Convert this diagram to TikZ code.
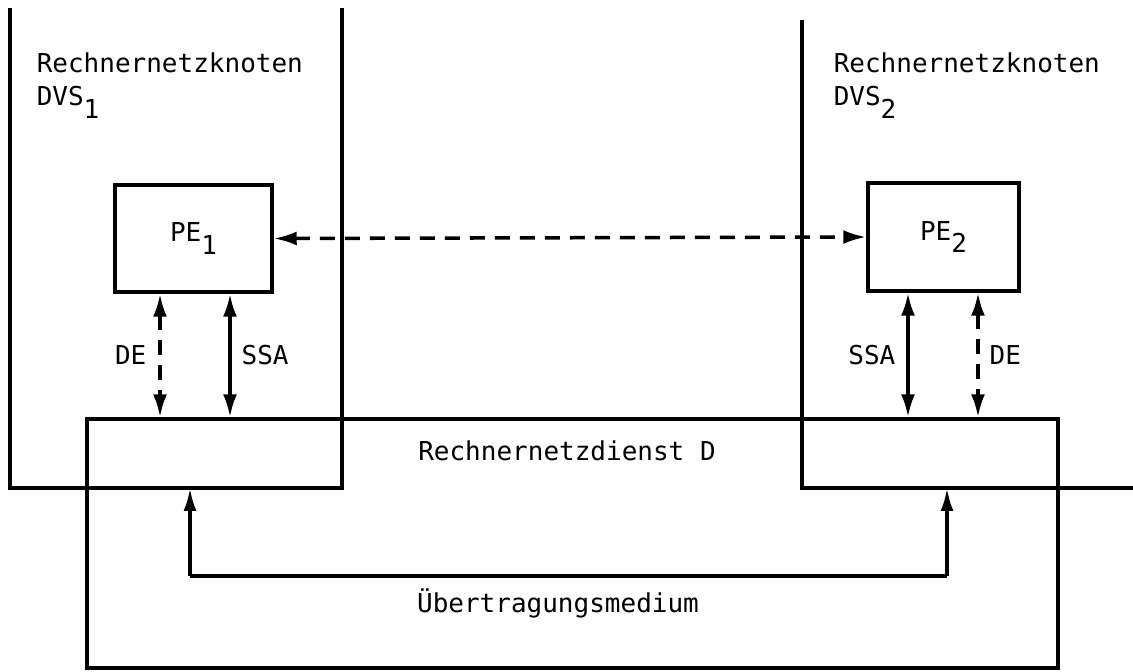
\documentclass[tikz,border=0pt]{standalone}
\usepackage{fontspec}
\setmainfont{DejaVu Sans Mono}
\usetikzlibrary{arrows.meta,positioning}
\newcommand{\idx}[1]{\raisebox{-0.9ex}{#1}}

\begin{document}
\begin{tikzpicture}[x=0.02cm,y=-0.02cm,line width=2pt,
  font=\fontsize{14.8}{18.8}\selectfont,
  box/.style={draw,rectangle,inner sep=0pt},
  link/.style={{Latex[length=0.46cm,width=0.28cm]}-{Latex[length=0.46cm,width=0.28cm]}},
  uplink/.style={-{Latex[length=0.46cm,width=0.26cm]}},
  dsh/.style={dash pattern=on 0.3cm off 0.2cm}]
\useasboundingbox (0,0) rectangle (1133,672);
% Rechnernetzknoten
\coordinate (k1) at (190,488);
\coordinate (k2) at (947,488);
\coordinate (med) at (568,576);
\draw (10,8) -- (10,488) -- (342,488) -- (342,8);
\draw (802,20) -- (802,488) -- (1133,488);
\node[anchor=north west,align=left,inner sep=0pt] (t1) at (35,51) {Rechnernetzknoten\\DVS\idx{1}};
\node[anchor=north west,align=left,inner sep=0pt] (t2) at (832,51) {Rechnernetzknoten\\DVS\idx{2}};
% Dienst und Instanzen
\node[box,minimum width=19.42cm,minimum height=4.98cm] (dienst) at (572.5,543.5) {};
\node[anchor=base] (dtext) at (567,460) {Rechnernetzdienst D};
\node[box,minimum width=3.14cm,minimum height=2.14cm] (pe1) at (193.5,238.5) {PE\idx{1}};
\node[box,minimum width=3.02cm,minimum height=2.16cm] (pe2) at (943.5,237) {PE\idx{2}};
\draw[link,dsh] (pe1.east) -- (pe2.west);
\draw[link,dsh] ([xshift=-0.67cm]pe1.south) -- ([xshift=-0.67cm]pe1.south |- dienst.north) node[midway,left=0.12cm] {DE};
\draw[link] ([xshift=0.73cm]pe1.south) -- ([xshift=0.73cm]pe1.south |- dienst.north) node[midway,right=0.08cm] {SSA};
\draw[link] ([xshift=-0.71cm]pe2.south) -- ([xshift=-0.71cm]pe2.south |- dienst.north) node[midway,left=0.1cm] {SSA};
\draw[link,dsh] ([xshift=0.69cm]pe2.south) -- ([xshift=0.69cm]pe2.south |- dienst.north) node[midway,right=0.08cm] {DE};
% Medium
\draw[uplink] (k1 |- med) -- (k1);
\draw[uplink] (k2 |- med) -- (k2);
\draw (k1 |- med) -- (k2 |- med);
\node[anchor=base] (mtext) at (558,612) {Übertragungsmedium};
\end{tikzpicture}
\end{document}
